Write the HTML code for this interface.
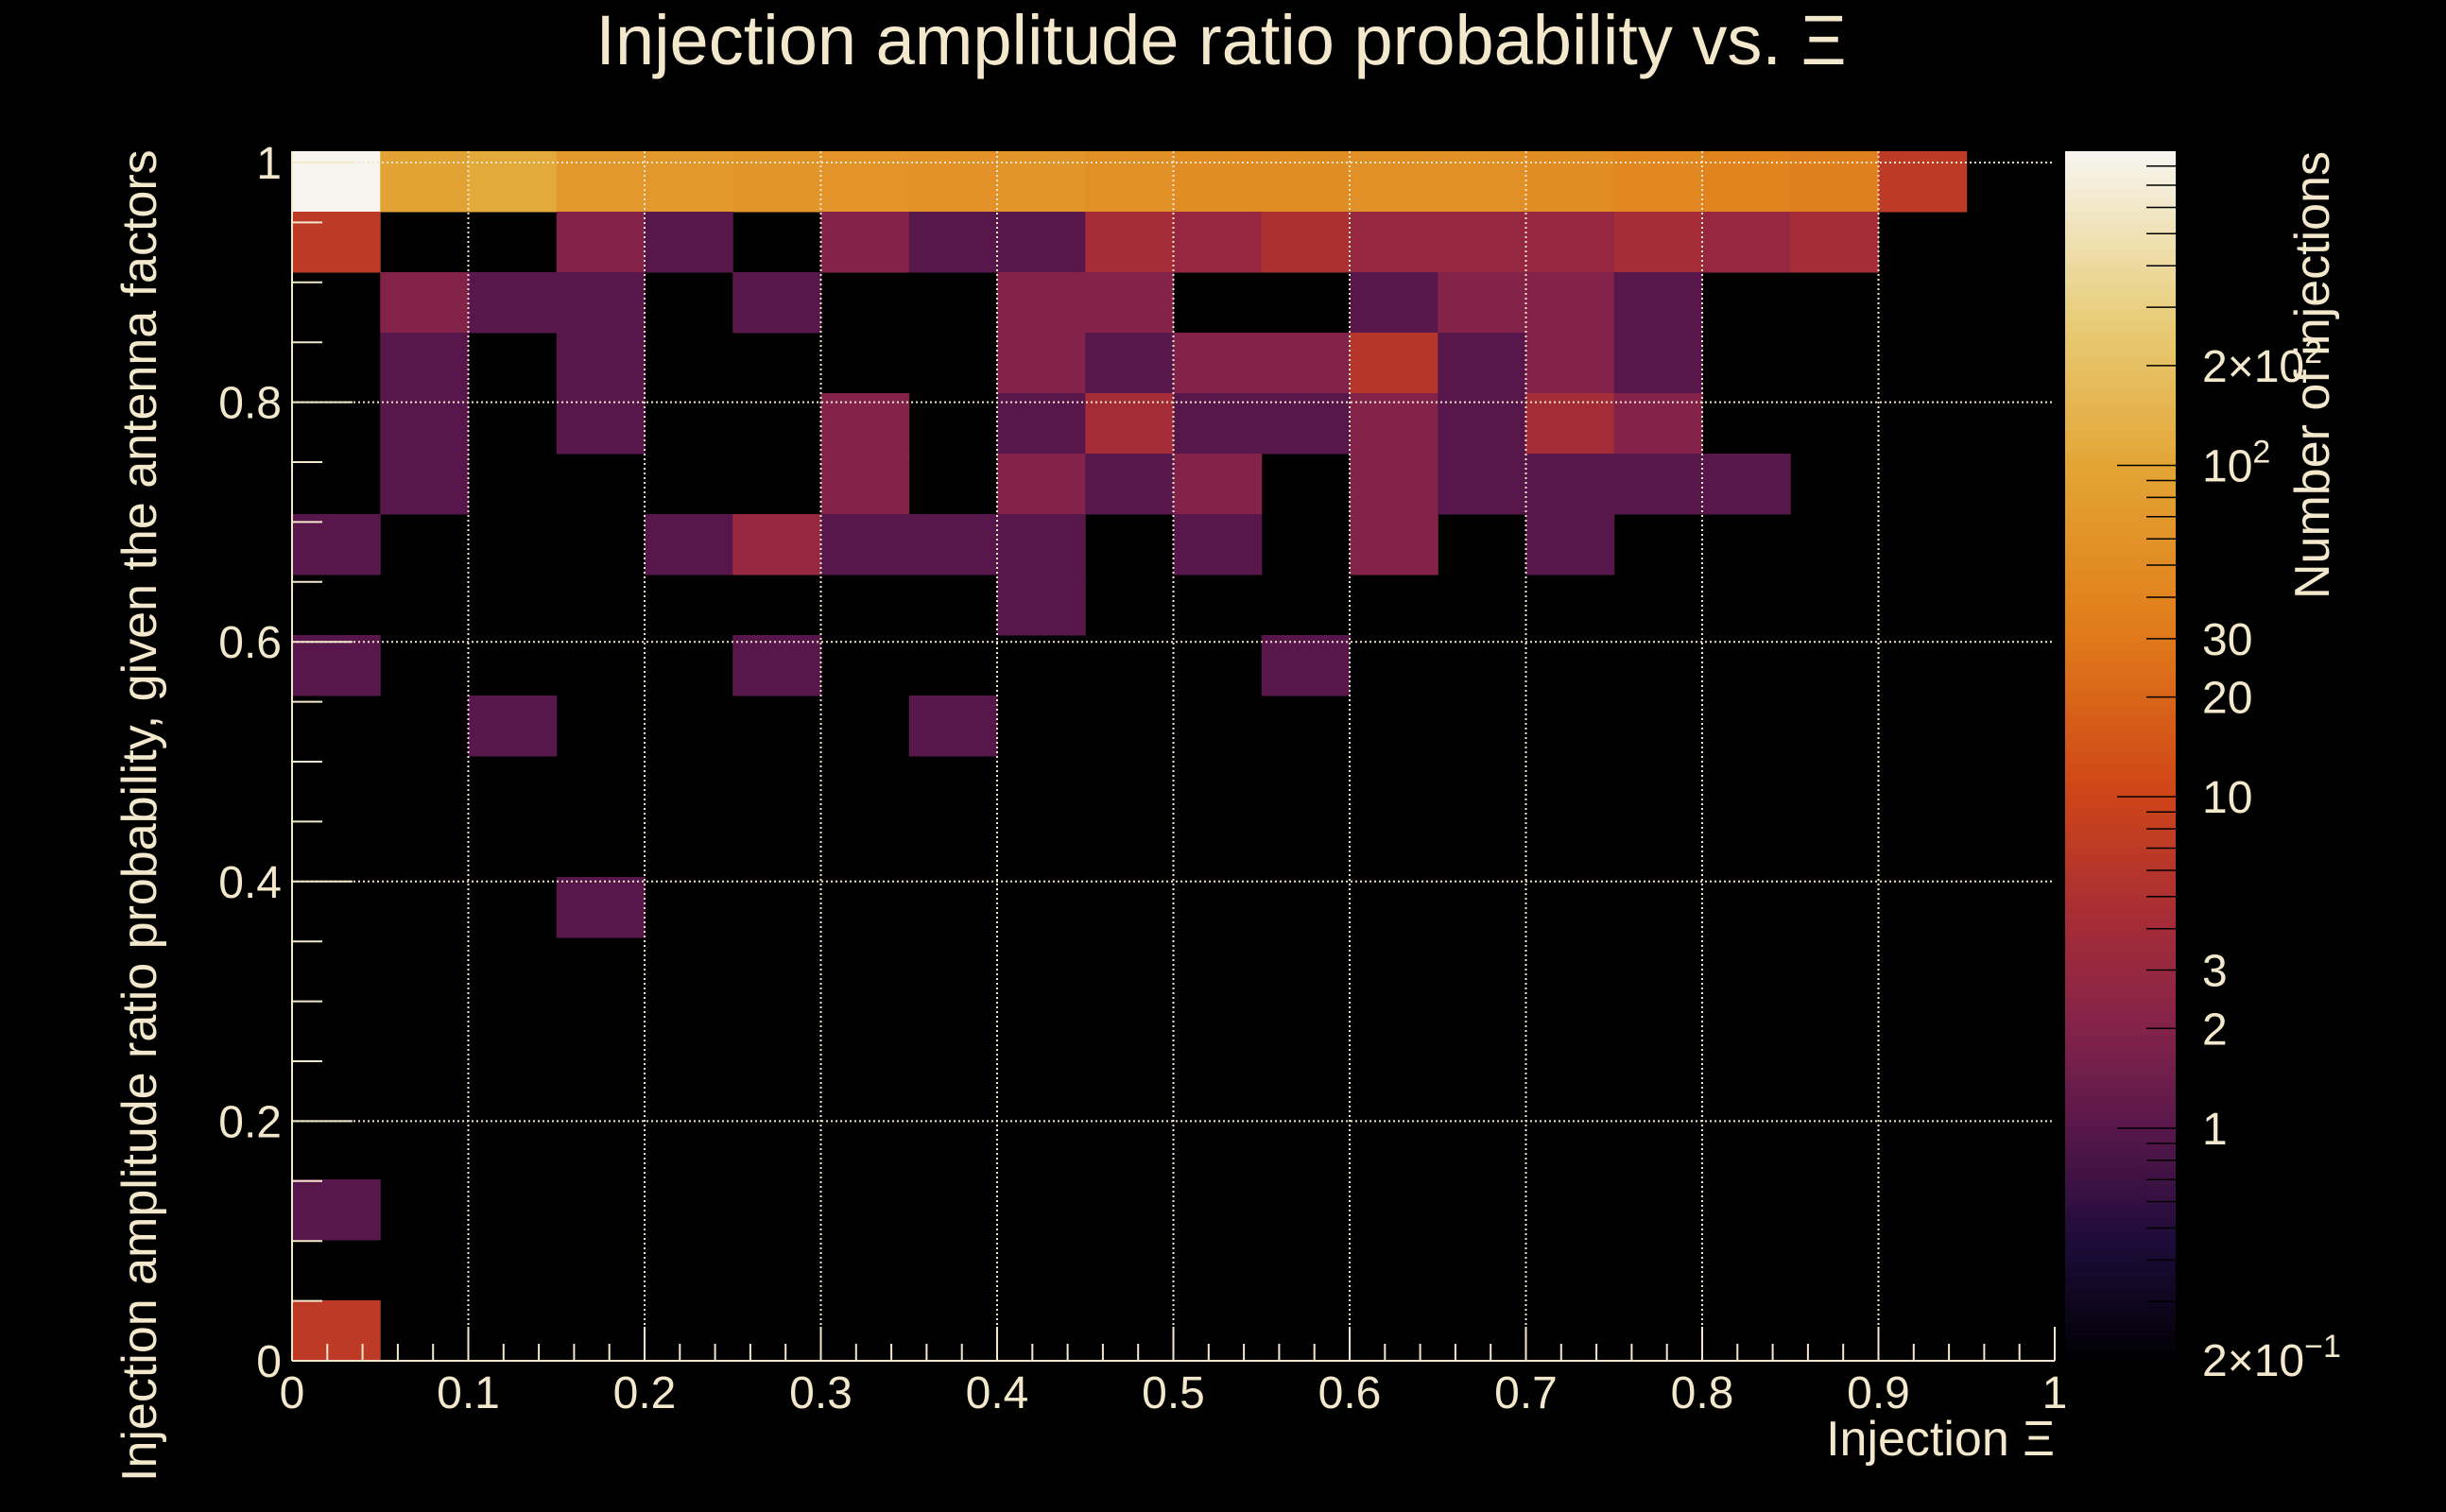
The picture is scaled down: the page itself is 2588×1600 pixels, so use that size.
<!DOCTYPE html>
<html><head><meta charset="utf-8"><style>
html,body{margin:0;padding:0;background:#000;}
svg{display:block;}
text{font-family:"Liberation Sans",sans-serif;fill:#f3e8cc;}
</style></head><body>
<svg id="chart" width="2588" height="1600" viewBox="0 0 2588 1600" xmlns="http://www.w3.org/2000/svg">
<rect x="0" y="0" width="2588" height="1600" fill="#000"/>
<text x="1292" y="68" font-size="74" text-anchor="middle">Injection amplitude ratio probability vs.  Ξ</text>
<g id="cells"></g>
<g id="grid"></g>
<g id="axes"></g>
<g id="cbar"></g>
<text x="2174" y="1540" font-size="52" text-anchor="end">Injection Ξ</text>
<text transform="translate(165,1568) rotate(-90)" font-size="52" text-anchor="start">Injection amplitude ratio probability, given the antenna factors</text>
<text transform="translate(2464,160) rotate(-90)" font-size="52" text-anchor="end">Number of injections</text>
</svg>
<script>
// x bin lower edges (Injection Xi), 20 bins of width 0.05
const xEdges = [0,0.05,0.1,0.15,0.2,0.25,0.3,0.35,0.4,0.45,0.5,0.55,0.6,0.65,0.7,0.75,0.8,0.85,0.9,0.95];
// y bin lower edges, top row first
const yEdges = [0.95,0.9,0.85,0.8,0.75,0.7,0.65,0.6,0.55,0.5,0.45,0.4,0.35,0.3,0.25,0.2,0.15,0.1,0.05,0.0];
const row0 = [887,95,110,70,70,65,62,60,65,55,50,52,55,55,50,45,40,35,7,0];
const row1 = [7,0,0,2,1,0,2,1,1,4,3,5,3,3,3,4,3,4,0,0];
const row2 = [0,2,1,1,0,1,0,0,2,2,0,0,1,2,2,1,0,0,0,0];
const row3 = [0,1,0,1,0,0,0,0,2,1,2,2,6,1,2,1,0,0,0,0];
const row4 = [0,1,0,1,0,0,2,0,1,4,1,1,2,1,4,2,0,0,0,0];
const row5 = [0,1,0,0,0,0,2,0,2,1,2,0,2,1,1,1,1,0,0,0];
const row6 = [1,0,0,0,1,3,1,1,1,0,1,0,2,0,1,0,0,0,0,0];
const row7 = [0,0,0,0,0,0,0,0,1,0,0,0,0,0,0,0,0,0,0,0];
const row8 = [1,0,0,0,0,1,0,0,0,0,0,1,0,0,0,0,0,0,0,0];
const row9 = [0,0,1,0,0,0,0,1,0,0,0,0,0,0,0,0,0,0,0,0];
const row10 = [0,0,0,0,0,0,0,0,0,0,0,0,0,0,0,0,0,0,0,0];
const row11 = [0,0,0,0,0,0,0,0,0,0,0,0,0,0,0,0,0,0,0,0];
const row12 = [0,0,0,1,0,0,0,0,0,0,0,0,0,0,0,0,0,0,0,0];
const row13 = [0,0,0,0,0,0,0,0,0,0,0,0,0,0,0,0,0,0,0,0];
const row14 = [0,0,0,0,0,0,0,0,0,0,0,0,0,0,0,0,0,0,0,0];
const row15 = [0,0,0,0,0,0,0,0,0,0,0,0,0,0,0,0,0,0,0,0];
const row16 = [0,0,0,0,0,0,0,0,0,0,0,0,0,0,0,0,0,0,0,0];
const row17 = [1,0,0,0,0,0,0,0,0,0,0,0,0,0,0,0,0,0,0,0];
const row18 = [0,0,0,0,0,0,0,0,0,0,0,0,0,0,0,0,0,0,0,0];
const row19 = [7,0,0,0,0,0,0,0,0,0,0,0,0,0,0,0,0,0,0,0];
const counts = [row0,row1,row2,row3,row4,row5,row6,row7,row8,row9,row10,row11,row12,row13,row14,row15,row16,row17,row18,row19];
const xTicks = ["0","0.1","0.2","0.3","0.4","0.5","0.6","0.7","0.8","0.9","1"];
const yTicks = ["0","0.2","0.4","0.6","0.8","1"];
const zMin = 0.2, zMax = 887;

const NS = "http://www.w3.org/2000/svg";
const X0 = 309, X1 = 2174, YB = 1440, YT = 160, Y1 = 172;
function sx(v){ return X0 + v*(X1-X0); }
function sy(v){ return YB - v*(YB-Y1); }
const binH = (YB-YT)/20;
const stops = [[0,[0,0,4]],[0.1,[30,12,58]],[0.19,[87,23,74]],[0.275,[131,35,74]],[0.37,[168,45,53]],[0.47,[207,69,24]],[0.6,[224,122,26]],[0.74,[227,165,53]],[0.86,[232,204,120]],[1,[247,245,240]]];
function zf(v){ return (Math.log10(v)-Math.log10(zMin))/(Math.log10(zMax)-Math.log10(zMin)); }
function color(f){
  f=Math.max(0,Math.min(1,f));
  for(let i=1;i<stops.length;i++){ if(f<=stops[i][0]){ const a=stops[i-1],b=stops[i]; const t=(f-a[0])/(b[0]-a[0]);
    const c=a[1].map((v,k)=>Math.round(v+(b[1][k]-v)*t)); return `rgb(${c[0]},${c[1]},${c[2]})`; } }
  return "rgb(247,245,240)";
}
function mk(tag, attrs, parent){ const e=document.createElementNS(NS,tag); for(const k in attrs) e.setAttribute(k,attrs[k]); parent.appendChild(e); return e; }

const cells=document.getElementById('cells');
counts.forEach((row,r)=>{ row.forEach((v,c)=>{ if(v<=0) return;
  const x=sx(xEdges[c]), w=sx(xEdges[c]+0.05)-x;
  const y=YT + r*binH;
  const el=mk('rect',{x:x,y:y,width:w+0.5,height:binH+0.5,fill:color(zf(v))},cells);
  
  
});});

const grid=document.getElementById('grid');
for(let i=1;i<xTicks.length-1;i++){ const x=sx(+xTicks[i]);
  const el=mk('line',{x1:x,y1:YT,x2:x,y2:YB,stroke:'#f3e8cc','stroke-width':2,'stroke-dasharray':'2 3'},grid);
    }
for(let i=1;i<yTicks.length;i++){ const y=sy(+yTicks[i]);
  const el=mk('line',{x1:X0,y1:y,x2:X1,y2:y,stroke:'#f3e8cc','stroke-width':2,'stroke-dasharray':'2 3'},grid);
    }

const axes=document.getElementById('axes');
let a=mk('line',{x1:X0,y1:YB,x2:X1,y2:YB,stroke:'#f3e8cc','stroke-width':2},axes);
 
a=mk('line',{x1:X0,y1:YT,x2:X0,y2:YB,stroke:'#f3e8cc','stroke-width':2},axes);
 
for(let i=0;i<=50;i++){ const x=sx(i*0.02); const L=(i%5===0)?36:18;
  const t=mk('line',{x1:x,y1:YB,x2:x,y2:YB-L,stroke:'#f3e8cc','stroke-width':2},axes);
    }
for(let i=0;i<=20;i++){ const y=sy(i*0.05); const L=(i%4===0)?64:32;
  const t=mk('line',{x1:X0,y1:y,x2:X0+L,y2:y,stroke:'#f3e8cc','stroke-width':2},axes);
    }
xTicks.forEach(s=>{ const t=mk('text',{x:sx(+s),y:1490,'font-size':48,'text-anchor':'middle'},axes); t.textContent=s;
    });
yTicks.forEach(s=>{ const t=mk('text',{x:298,y:sy(+s)+17,'font-size':48,'text-anchor':'end'},axes); t.textContent=s;
    });

// colour bar
const cb=document.getElementById('cbar');
const CX0=2185, CX1=2302, CB=1439, CT=160;
const N=200;
for(let i=0;i<N;i++){ const f0=i/N; const y=CB-(i+1)*(CB-CT)/N;
  const r=mk('rect',{x:CX0,y:y,width:CX1-CX0,height:(CB-CT)/N+1,fill:color(f0+0.5/N)},cb);
    }
function cy(v){ return CB - zf(v)*(CB-CT); }
const cbMajor=[1,10,100];
const cbMinor=[0.3,0.4,0.5,0.6,0.7,0.8,0.9,2,3,4,5,6,7,8,9,20,30,40,50,60,70,80,90,200,300,400,500,600,700,800];
cbMajor.forEach(v=>{ const l=mk('line',{x1:CX1-62,y1:cy(v),x2:CX1,y2:cy(v),stroke:'#000','stroke-width':1.5},cb);
    });
cbMinor.forEach(v=>{ const l=mk('line',{x1:CX1-31,y1:cy(v),x2:CX1,y2:cy(v),stroke:'#000','stroke-width':1.5},cb);
    });
const cbLabels=[[0.2,"2×10<tspan dy='-20' font-size='34'>−1</tspan>"],[1,"1"],[2,"2"],[3,"3"],[10,"10"],[20,"20"],[30,"30"],[100,"10<tspan dy='-20' font-size='34'>2</tspan>"],[200,"2×10<tspan dy='-20' font-size='34'>2</tspan>"]];
cbLabels.forEach(p=>{ const t=mk('text',{x:2330,y:cy(p[0])+17,'font-size':48},cb); t.innerHTML=p[1];
    });
</script>
</body></html>
